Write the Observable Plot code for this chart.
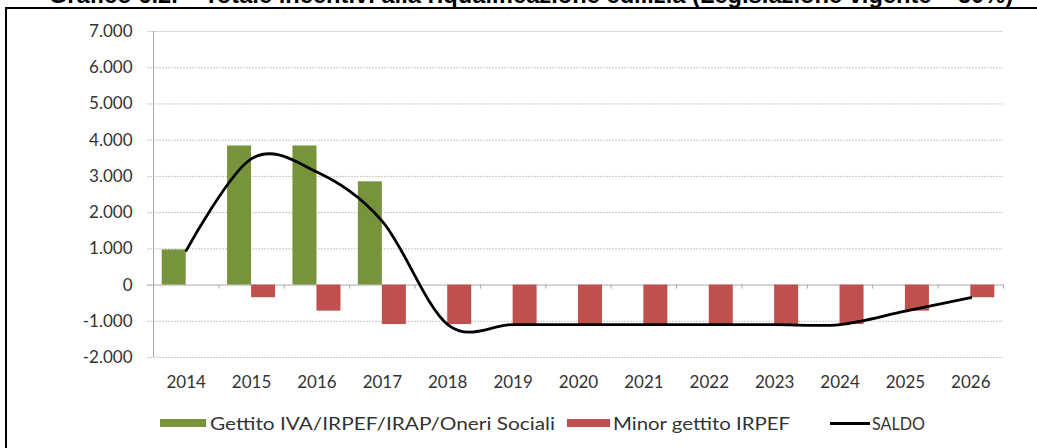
<!DOCTYPE html>
<html>
<head>
<meta charset="utf-8">
<script src="https://cdn.jsdelivr.net/npm/d3@7"></script>
<script src="https://cdn.jsdelivr.net/npm/@observablehq/plot@0.6"></script>
<style>
  html, body { margin: 0; padding: 0; background: #fff; }
  #wrap { position: relative; width: 1037px; height: 448px; overflow: hidden; background: #fff; }
  #title { position: absolute; left: 0; width: 1062px; text-align: center; top: -17px; font: bold 23.7px "Liberation Sans", Arial, sans-serif; line-height: 24px; color: #000; white-space: nowrap; }
  #frame { position: absolute; left: 5px; top: 7px; width: 1100px; height: 500px; border-left: 2px solid #000; border-top: 2px solid #000; }
  #chart { position: absolute; left: 0; top: 0; }
  .sw { position: absolute; height: 8px; }
  .ln { position: absolute; height: 3px; background: #000; }
  .tx { position: absolute; font: 18px Lato, sans-serif; color: #333; transform-origin: 0 50%; line-height: 20px; white-space: nowrap; }
</style>
</head>
<body>
<div id="wrap">
  <div id="frame"></div>
  <div id="title">Grafico 6.2. – Totale incentivi alla riqualificazione edilizia (Legislazione vigente – 50%)</div>
  <div id="chart"></div>
  <div id="legend"></div>
</div>
<script>
const years = ["2014","2015","2016","2017","2018","2019","2020","2021","2022","2023","2024","2025","2026"];
const gettito = [970, 3840, 3840, 2850, 0, 0, 0, 0, 0, 0, 0, 0, 0];
const minorGettito = [0, -350, -720, -1090, -1090, -1090, -1090, -1090, -1090, -1090, -1090, -720, -350];
const saldo = [950, 3490, 3120, 1760, -1090, -1090, -1090, -1090, -1090, -1090, -1090, -720, -350];
const yTicks = [-2000, -1000, 0, 1000, 2000, 3000, 4000, 5000, 6000, 7000];
const yTickLabels = ["-2.000", "-1.000", "0", "1.000", "2.000", "3.000", "4.000", "5.000", "6.000", "7.000"];
const seriesNames = ["Gettito IVA/IRPEF/IRAP/Oneri Sociali", "Minor gettito IRPEF", "SALDO"];
const colors = ["#77933c", "#c0504d", "#000000"];

const barW = 0.367; // fraction of category width per bar
const idx = years.map((_, i) => i);
const greenData = idx.filter(i => gettito[i] !== 0).map(i => ({i, v: gettito[i]}));
const redData = idx.filter(i => minorGettito[i] !== 0).map(i => ({i, v: minorGettito[i]}));
const lineData = idx.map(i => ({i, v: saldo[i]}));
const boundaries = d3.range(-0.5, years.length, 1);
const yLabelMap = new Map(yTicks.map((t, k) => [t, yTickLabels[k]]));

const chart = Plot.plot({
  width: 1037,
  height: 395,
  marginLeft: 153,
  marginRight: 34,
  marginTop: 31,
  marginBottom: 38,
  style: { fontFamily: "Lato, sans-serif", background: "transparent", color: "#333" },
  x: { type: "linear", domain: [-0.5, years.length - 0.5], label: null },
  y: { domain: [-2000, 7000], label: null },
  marks: [
    Plot.ruleY(yTicks, { stroke: "#c8c8c8", strokeDasharray: "2,1", insetLeft: -6 }),
    Plot.ruleY([7000], { stroke: "#d9d9d9", insetLeft: -6 }),
    Plot.ruleY([0], { stroke: "#bdbdbd", insetLeft: -6 }),
    Plot.ruleX([-0.5], { y1: -2000, y2: 7000, stroke: "#a6a6a6" }),
    Plot.ruleX(boundaries.slice(1), { y1: 0, y2: 0, insetBottom: -4, stroke: "#a6a6a6" }),
    Plot.rectY(greenData, { x1: d => d.i - barW, x2: d => d.i, y1: 0, y2: "v", fill: colors[0] }),
    Plot.rectY(redData, { x1: d => d.i, x2: d => d.i + barW, y1: 0, y2: "v", fill: colors[1] }),
    Plot.line(lineData, { x: "i", y: "v", stroke: colors[2], strokeWidth: 2.8, curve: "cardinal" }),
    Plot.axisY({ ticks: yTicks, tickFormat: d => yLabelMap.get(d), tickSize: 0, tickPadding: 21, fontSize: 17, fill: "#333", label: null }),
    Plot.axisX({ ticks: idx, tickFormat: i => years[i], tickSize: 0, tickPadding: 18, fontSize: 17, fill: "#333", label: null })
  ]
});
document.getElementById("chart").appendChild(chart);

// legend layout (pixels)
const legend = document.getElementById("legend");
const swatchX = [160, 567, 830];
const swatchW = [46, 43, 40];
const textX = [210, 613, 872];
const textW = [345, 177, 53];
seriesNames.forEach((name, k) => {
  const sw = document.createElement("div");
  sw.className = k < 2 ? "sw" : "ln";
  if (k < 2) sw.style.background = colors[k];
  sw.style.left = swatchX[k] + "px";
  sw.style.width = swatchW[k] + "px";
  sw.style.top = (k < 2 ? 419 : 422) + "px";
  legend.appendChild(sw);
  const t = document.createElement("div");
  t.className = "tx";
  t.textContent = name;
  t.style.left = textX[k] + "px";
  t.style.top = "413px";
  legend.appendChild(t);
  const w = t.getBoundingClientRect().width;
  t.style.transform = `scaleX(${textW[k] / w})`;
});
</script>
</body>
</html>
